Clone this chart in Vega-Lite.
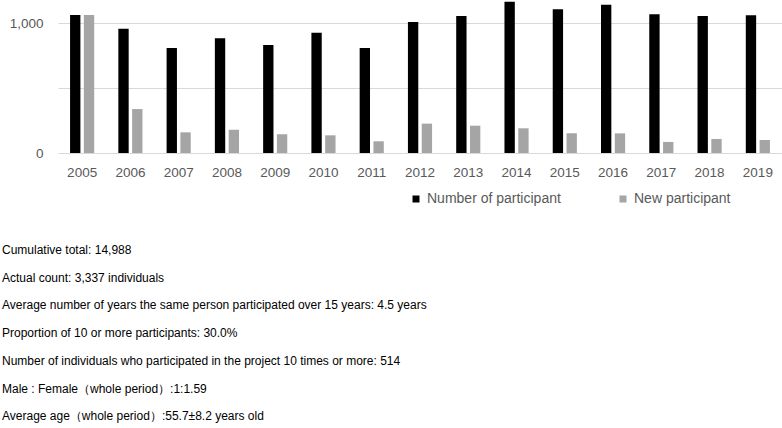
{
  "$schema": "https://vega.github.io/schema/vega-lite/v6.json",
  "autosize": "none",
  "width": 724,
  "height": 153,
  "padding": {"left": 58, "top": 0, "right": 0, "bottom": 275},
  "background": "white",
  "data": {
    "values": [
      {"year": "2005", "series": "Number of participant", "value": 1062},
      {"year": "2005", "series": "New participant", "value": 1062},
      {"year": "2006", "series": "Number of participant", "value": 956},
      {"year": "2006", "series": "New participant", "value": 338},
      {"year": "2007", "series": "Number of participant", "value": 808},
      {"year": "2007", "series": "New participant", "value": 159},
      {"year": "2008", "series": "Number of participant", "value": 882},
      {"year": "2008", "series": "New participant", "value": 179},
      {"year": "2009", "series": "Number of participant", "value": 831},
      {"year": "2009", "series": "New participant", "value": 144},
      {"year": "2010", "series": "Number of participant", "value": 926},
      {"year": "2010", "series": "New participant", "value": 136},
      {"year": "2011", "series": "Number of participant", "value": 808},
      {"year": "2011", "series": "New participant", "value": 90},
      {"year": "2012", "series": "Number of participant", "value": 1008},
      {"year": "2012", "series": "New participant", "value": 226},
      {"year": "2013", "series": "Number of participant", "value": 1054},
      {"year": "2013", "series": "New participant", "value": 210},
      {"year": "2014", "series": "Number of participant", "value": 1164},
      {"year": "2014", "series": "New participant", "value": 190},
      {"year": "2015", "series": "Number of participant", "value": 1105},
      {"year": "2015", "series": "New participant", "value": 151},
      {"year": "2016", "series": "Number of participant", "value": 1141},
      {"year": "2016", "series": "New participant", "value": 151},
      {"year": "2017", "series": "Number of participant", "value": 1067},
      {"year": "2017", "series": "New participant", "value": 85},
      {"year": "2018", "series": "Number of participant", "value": 1054},
      {"year": "2018", "series": "New participant", "value": 108},
      {"year": "2019", "series": "Number of participant", "value": 1059},
      {"year": "2019", "series": "New participant", "value": 100}
    ]
  },
  "title": {
    "text": [
      "Cumulative total: 14,988",
      "Actual count: 3,337 individuals",
      "Average number of years the same person participated over 15 years: 4.5 years",
      "Proportion of 10 or more participants: 30.0%",
      "Number of individuals who participated in the project 10 times or more: 514",
      "Male : Female（whole period）:1:1.59",
      "Average age（whole period）:55.7±8.2 years old"
    ],
    "orient": "bottom",
    "anchor": "start",
    "frame": "group",
    "dx": -56,
    "offset": 39,
    "font": "Liberation Sans",
    "fontSize": 12,
    "fontWeight": "normal",
    "color": "#000000",
    "lineHeight": 27.7,
    "baseline": "top"
  },
  "mark": {"type": "bar"},
  "encoding": {
    "x": {
      "field": "year",
      "type": "ordinal",
      "scale": {"paddingInner": 0.5, "paddingOuter": 0.25},
      "axis": {
        "title": null,
        "labelAngle": 0,
        "domain": false,
        "ticks": false,
        "labelPadding": 12,
        "labelFont": "Liberation Sans",
        "labelFontSize": 13.5,
        "labelColor": "#595959"
      }
    },
    "xOffset": {
      "field": "series",
      "type": "nominal",
      "sort": ["Number of participant", "New participant"],
      "scale": {"paddingInner": 0.25}
    },
    "y": {
      "field": "value",
      "type": "quantitative",
      "scale": {"domain": [0, 1177], "nice": false},
      "axis": {
        "title": null,
        "values": [0, 500, 1000],
        "labelExpr": "datum.value == 500 ? '' : format(datum.value, ',')",
        "domain": false,
        "ticks": false,
        "gridColor": "#d9d9d9",
        "labelPadding": 15,
        "labelFont": "Liberation Sans",
        "labelFontSize": 13.5,
        "labelColor": "#595959"
      }
    },
    "color": {
      "field": "series",
      "type": "nominal",
      "sort": ["Number of participant", "New participant"],
      "scale": {"domain": ["Number of participant", "New participant"], "range": ["#000000", "#a5a5a5"]},
      "legend": {
        "title": null,
        "orient": "none",
        "direction": "horizontal",
        "legendX": 351,
        "legendY": 192,
        "symbolType": "square",
        "symbolSize": 49,
        "symbolStrokeWidth": 0,
        "labelFont": "Liberation Sans",
        "labelFontSize": 14,
        "labelColor": "#595959",
        "columnPadding": 55
      }
    }
  },
  "config": {"view": {"stroke": null}}
}
